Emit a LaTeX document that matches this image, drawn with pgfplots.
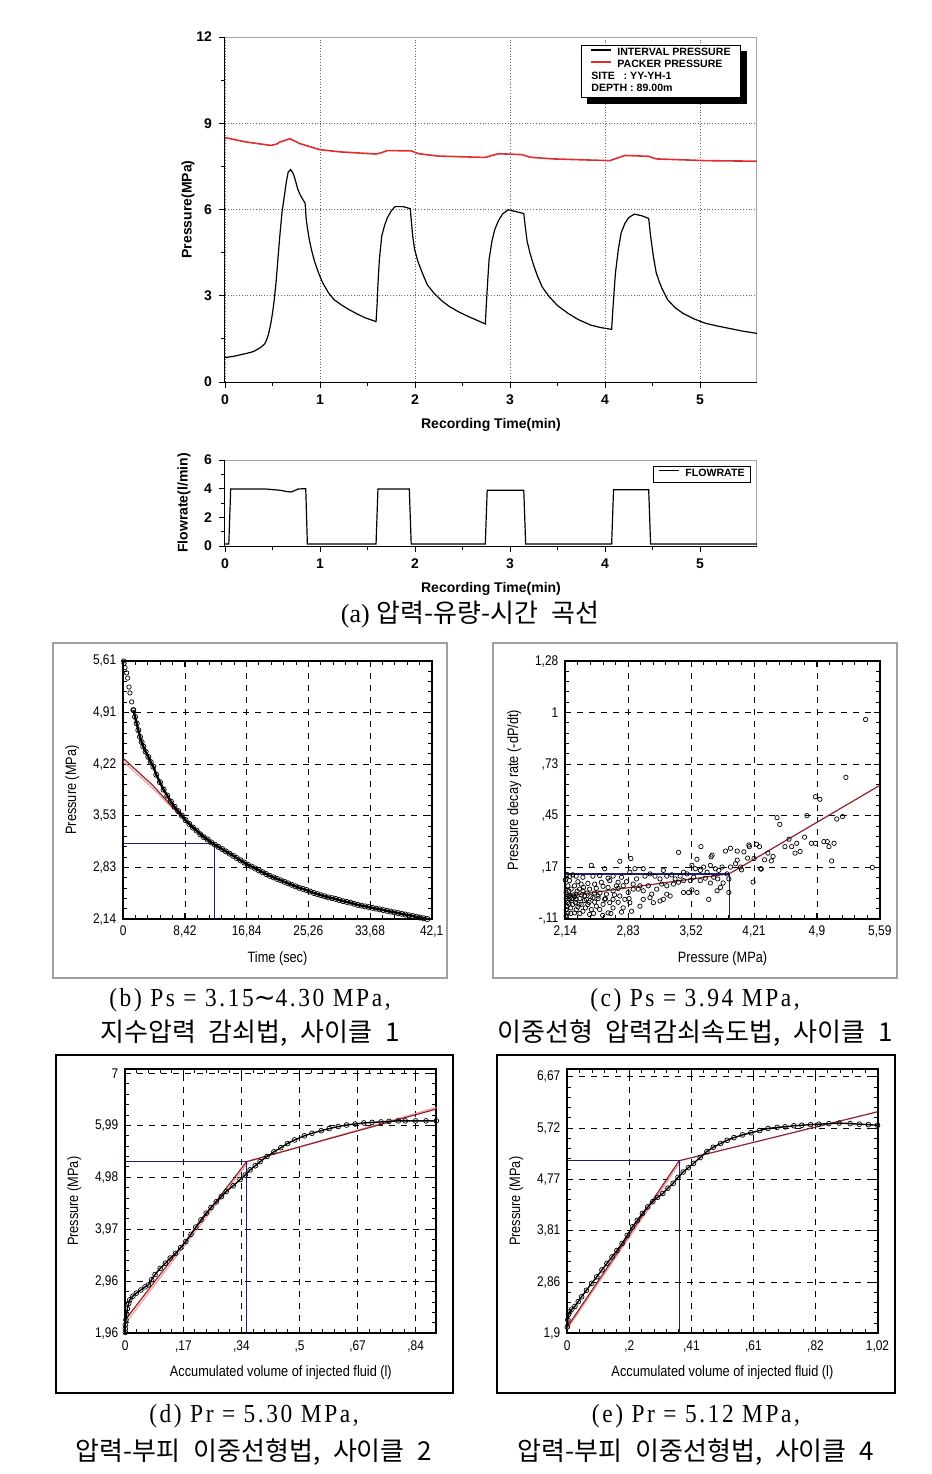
\documentclass[border=0pt]{standalone}
\usepackage{fontspec}
\setmainfont{Liberation Sans}
\newfontfamily\narrowsans[FakeStretch=0.85]{Liberation Sans}
\newfontfamily\capserif[FakeStretch=0.9,LetterSpace=10]{Liberation Serif}
\newfontfamily\plainserif{Liberation Serif}
\newfontfamily\dejavu{DejaVu Sans}
\newfontfamily\kr[WordSpace=2.2]{Noto Sans CJK KR}
\usepackage{pgfplots}
\pgfplotsset{compat=1.18}
\definecolor{packred}{RGB}{225,45,45}
\definecolor{fitred}{RGB}{140,35,45}
\definecolor{fitpink}{RGB}{238,160,160}
\definecolor{navy}{RGB}{30,30,115}
\definecolor{gridblue}{RGB}{95,95,140}

\pgfplotsset{
  topstyle/.style={
    scale only axis, anchor=south west,
    axis x line*=bottom, axis y line*=left,
    tick align=outside,
    xmin=0, xmax=5.6,
    xtick={0,1,2,3,4,5},
    minor x tick num=1,
    tick label style={font=\fontsize{7}{8}\selectfont\bfseries},
    label style={font=\fontsize{7}{8}\selectfont\bfseries},
    /pgf/number format/assume math mode=true,
    major tick length=3pt, minor tick length=2pt,
    every tick/.style={black, line width=0.4pt},
    axis line style={black, line width=0.5pt},
    legend image code/.code={\draw[#1,line width=0.7pt] (0pt,1.8pt) -- (10pt,1.8pt);},
  },
  smallstyle/.style={
    scale only axis, anchor=south west,
    axis line style={black, line width=1pt},
    grid=major,
    major grid style={black, dashed, line width=0.35pt},
    tick align=inside,
    minor tick num=4,
    major tick length=3pt, minor tick length=2pt,
    every tick/.style={black, line width=0.5pt},
    tick label style={font=\fontsize{7}{8}\selectfont\narrowsans},
    label style={font=\fontsize{7.5}{9}\selectfont\narrowsans},
    scaled ticks=false,
  },
  datamarks/.style={black, line width=0.35pt, mark=o, mark size=1.1pt, mark options={line width=0.35pt}},
}

\begin{document}
\begin{tikzpicture}
\useasboundingbox (0,0) rectangle (466pt,-737pt);
\fill[white] (0,0) rectangle (466pt,-737pt);

% ---------------- (a) pressure ----------------
\begin{axis}[topstyle, at={(112.5pt,-191pt)}, width=266pt, height=172.5pt,
  ymin=0, ymax=12, ytick={0,3,6,9,12}, minor y tick num=1,
  ylabel shift=-6pt,
  grid=major, major grid style={gridblue, densely dotted, line width=0.4pt},
  xlabel={Recording Time(min)}, ylabel={Pressure(MPa)},
  legend style={name=toplegend, at={(0.970,0.977)}, anchor=north east, draw=black, line width=0.6pt,
    fill=white, font=\fontsize{5.3}{5.5}\selectfont\bfseries, inner xsep=4.5pt, inner ysep=1pt,
    nodes={inner sep=0.4pt}, row sep=0pt, legend cell align=left,
    /tikz/every odd column/.append style={column sep=2.2pt}},
  ]
\draw[gray!70, line width=0.6pt] (rel axis cs:0,1) -- (rel axis cs:1,1) -- (rel axis cs:1,0);
\addplot[black, line width=0.6pt] coordinates {
(0,0.85) (0.1,0.90) (0.22,0.99) (0.3,1.06) (0.36,1.17) (0.40,1.27) (0.42,1.34) (0.44,1.48) (0.46,1.69)
(0.48,2.0) (0.50,2.39) (0.52,2.9) (0.54,3.56) (0.56,4.4) (0.58,5.19) (0.60,5.9) (0.625,6.48)
(0.645,6.95) (0.665,7.30) (0.69,7.39) (0.71,7.30) (0.726,7.18) (0.746,6.95) (0.766,6.71)
(0.786,6.55) (0.806,6.42) (0.825,6.32) (0.843,6.22) (0.855,5.66) (0.87,5.30) (0.887,4.96)
(0.91,4.60) (0.93,4.35) (0.948,4.14) (0.99,3.75) (1.03,3.44) (1.09,3.10) (1.15,2.86)
(1.23,2.67) (1.31,2.51) (1.39,2.37) (1.47,2.24) (1.59,2.10) (1.60,2.63) (1.61,3.4) (1.625,4.26)
(1.65,5.08) (1.68,5.45) (1.71,5.72) (1.75,5.95) (1.79,6.10) (1.875,6.10) (1.95,6.03) (1.96,5.66)
(1.975,5.10) (1.996,4.61) (2.03,4.20) (2.077,3.79) (2.13,3.38) (2.20,3.09) (2.28,2.83)
(2.36,2.63) (2.46,2.44) (2.56,2.28) (2.65,2.15) (2.74,2.02) (2.75,2.63) (2.765,3.5) (2.78,4.26)
(2.81,4.9) (2.84,5.31) (2.88,5.62) (2.92,5.84) (2.98,5.99) (3.06,5.93) (3.145,5.86) (3.16,5.43)
(3.18,4.90) (3.21,4.49) (3.25,4.05) (3.29,3.68) (3.34,3.30) (3.41,2.98) (3.50,2.66)
(3.61,2.39) (3.72,2.17) (3.85,1.98) (3.96,1.89) (4.07,1.83) (4.08,2.39) (4.095,3.1) (4.11,3.79)
(4.14,4.6) (4.17,5.19) (4.21,5.52) (4.25,5.72) (4.31,5.84) (4.39,5.78) (4.46,5.69) (4.48,5.08)
(4.51,4.35) (4.54,3.79) (4.57,3.50) (4.60,3.25) (4.66,2.86) (4.74,2.58) (4.82,2.39)
(4.94,2.19) (5.06,2.04) (5.18,1.95) (5.30,1.87) (5.45,1.77) (5.6,1.69)};
\addlegendentry{INTERVAL PRESSURE}
\addplot[packred, line width=0.8pt] coordinates {
(0,8.50) (0.22,8.35) (0.48,8.23) (0.54,8.27) (0.58,8.35) (0.685,8.46) (0.79,8.29)
(0.87,8.21) (1.0,8.08) (1.23,8.0) (1.59,7.93) (1.65,7.98) (1.71,8.05) (1.96,8.04)
(2.04,7.94) (2.24,7.86) (2.74,7.81) (2.8,7.87) (2.88,7.94) (3.125,7.91) (3.21,7.82)
(3.45,7.76) (4.05,7.70) (4.12,7.78) (4.21,7.88) (4.46,7.85) (4.54,7.76) (5.06,7.70) (5.6,7.68)};
\addlegendentry{PACKER PRESSURE}
\addlegendimage{empty legend}
\addlegendentry{\hspace*{-13pt}SITE\ \ \ : YY-YH-1}
\addlegendimage{empty legend}
\addlegendentry{\hspace*{-13pt}DEPTH : 89.00m}
\end{axis}
% legend shadow (visible L-shaped part only)
\fill[black] ([xshift=3pt]toplegend.south west) rectangle ([xshift=3pt,yshift=-3pt]toplegend.south east);
\fill[black] ([yshift=-3pt]toplegend.north east) rectangle ([xshift=3pt,yshift=-3pt]toplegend.south east);

% ---------------- (a) flowrate ----------------
\begin{axis}[topstyle, at={(112.5pt,-273pt)}, width=266pt, height=43pt,
  ymin=0, ymax=6, ytick={0,2,4,6}, minor y tick num=1,
  xlabel={Recording Time(min)}, ylabel={Flowrate(l/min)},
  legend style={at={(0.989,0.93)}, anchor=north east, draw=black, line width=0.5pt,
    fill=white, font=\fontsize{5.3}{5.5}\selectfont\bfseries, inner xsep=2.5pt, inner ysep=0.8pt,
    nodes={inner sep=0.5pt}, /tikz/every odd column/.append style={column sep=2.2pt}},
  ]
\draw[gray!70, line width=0.6pt] (rel axis cs:0,1) -- (rel axis cs:1,1) -- (rel axis cs:1,0);
\addplot[black, line width=0.6pt] coordinates {
(0,0.14) (0.04,0.14) (0.06,3.98) (0.42,3.98) (0.58,3.89) (0.65,3.80) (0.70,3.77) (0.77,3.98)
(0.85,4.0) (0.867,0.14) (1.59,0.14) (1.61,3.98) (1.94,3.98) (1.96,0.14) (2.74,0.14)
(2.76,3.89) (3.145,3.89) (3.165,0.14) (4.07,0.14) (4.09,3.93) (4.46,3.93) (4.48,0.14) (5.6,0.14)};
\addlegendentry{FLOWRATE}
\end{axis}

\node[font=\fontsize{13}{15}\selectfont] at (235pt,-307.5pt) {{\plainserif (a)} {\kr 압력-유량-시간 곡선}};

% ---------------- frames ----------------
\draw[gray!75, line width=1pt] (26.5pt,-321.5pt) rectangle (223.5pt,-489pt);
\draw[gray!75, line width=1pt] (246.5pt,-321.5pt) rectangle (448.5pt,-489pt);
\draw[black, line width=0.8pt] (28pt,-527.5pt) rectangle (226.5pt,-696.5pt);
\draw[black, line width=0.8pt] (248.5pt,-527.5pt) rectangle (447.5pt,-696.5pt);

% ---------------- (b) ----------------
\begin{axis}[smallstyle, at={(61.65pt,-459.5pt)}, width=154.2pt, height=129pt,
  xmin=0, xmax=42.1, ymin=2.14, ymax=5.61,
  xtick={0,8.42,16.84,25.26,33.68,42.1}, xticklabels={0,{8,42},{16,84},{25,26},{33,68},{42,1}},
  ytick={2.14,2.834,3.528,4.222,4.916,5.61}, yticklabels={{2,14},{2,83},{3,53},{4,22},{4,91},{5,61}},
  xlabel={Time (sec)}, ylabel={Pressure (MPa)}]
\addplot[fitpink, line width=0.6pt] coordinates {(0,4.26) (4,3.90) (8.42,3.46) (12.3,3.14) (14,3.04)};
\addplot[fitred, line width=0.6pt] coordinates {(0,4.30) (4,3.94) (8.2,3.49) (12.3,3.15) (15,3.0)};
\addplot[navy, line width=0.6pt] coordinates {(0,3.16) (12.4,3.16) (12.4,2.14)};
\addplot[datamarks, only marks] coordinates {(0.05,5.61) (0.1,5.58) (0.23,5.52) (0.46,5.45) (0.6,5.38) (0.78,5.26) (0.91,5.18) (1.15,5.06) (1.37,4.95)};
\addplot[datamarks, line width=1.2pt, mark size=1.3pt] coordinates {
(1.37,4.95) (1.6,4.86) (1.83,4.77) (2.05,4.68) (2.28,4.59) (2.5,4.52) (2.73,4.46) (3.05,4.39)
(3.41,4.32) (3.75,4.25) (4.10,4.19) (4.5,4.08) (5,3.98) (5.5,3.88) (6,3.80) (6.5,3.72)
(7,3.65) (7.5,3.59) (8,3.53) (8.5,3.47) (9,3.42) (9.5,3.37) (10,3.33) (10.5,3.28) (11,3.24)
(11.5,3.21) (12,3.17) (12.5,3.14) (13,3.11) (13.5,3.08) (14,3.05) (14.5,3.02) (15,2.99)
(15.5,2.96) (16,2.93) (16.5,2.90) (17,2.87) (17.5,2.845) (18,2.82) (18.5,2.795) (19,2.77)
(19.5,2.745) (20,2.72) (20.5,2.70) (21,2.68) (21.5,2.66) (22,2.64) (22.5,2.62) (23,2.60)
(23.5,2.58) (24,2.56) (24.5,2.545) (25,2.53) (25.5,2.51) (26,2.49) (26.5,2.475) (27,2.46)
(27.5,2.445) (28,2.43) (28.5,2.42) (29,2.41) (29.5,2.395) (30,2.38) (30.5,2.37) (31,2.36)
(31.5,2.345) (32,2.33) (32.5,2.32) (33,2.31) (33.5,2.30) (34,2.29) (34.5,2.28) (35,2.27)
(35.5,2.26) (36,2.25) (36.5,2.24) (37,2.23) (37.5,2.22) (38,2.21) (38.5,2.20) (39,2.19)
(39.5,2.18) (40,2.17) (40.5,2.16) (41,2.15) (41.5,2.14) (42,2.13)};
\end{axis}

% ---------------- (c) ----------------
\begin{axis}[smallstyle, at={(282.65pt,-459.5pt)}, width=157.25pt, height=129pt,
  xmin=2.14, xmax=5.59, ymin=-0.11, ymax=1.28,
  xtick={2.14,2.83,3.52,4.21,4.9,5.59}, xticklabels={{2,14},{2,83},{3,52},{4,21},{4,9},{5,59}},
  ytick={-0.11,0.168,0.446,0.724,1.002,1.28}, yticklabels={{-,11},{,17},{,45},{,73},1,{1,28}},
  xlabel={Pressure (MPa)}, ylabel={Pressure decay rate (-dP/dt)}]
\addplot[datamarks, only marks, mark size=1.1pt] coordinates {
(2.425,0.179) (2.572,0.161) (2.738,0.201) (2.859,0.216) (2.903,0.161) (2.995,0.161) (2.756,0.115)
(2.848,0.142) (2.664,0.121) (2.609,0.110) (2.517,0.124) (2.443,0.121) (2.333,0.115) (2.259,0.121)
(2.222,0.128) (2.186,0.097) (2.278,0.091) (2.314,0.078) (2.388,0.082) (2.462,0.078) (2.535,0.088)
(2.627,0.097) (2.719,0.088) (2.811,0.091) (2.922,0.106) (3.014,0.121) (3.069,0.133) (3.124,0.121)
(3.179,0.106) (3.216,0.152) (3.253,0.121) (3.308,0.128) (3.345,0.106) (3.400,0.121) (3.437,0.142)
(3.474,0.133) (3.529,0.179) (3.566,0.161) (3.621,0.152) (3.658,0.170) (3.695,0.142) (3.731,0.179)
(3.786,0.161) (3.823,0.152) (3.860,0.170) (3.915,0.133) (3.952,0.170) (3.382,0.249) (3.628,0.280)
(3.739,0.225) (3.750,0.234) (3.897,0.256) (3.952,0.271) (4.026,0.256) (4.099,0.252) (4.154,0.289)
(4.239,0.293) (4.284,0.161) (4.210,0.216) (4.063,0.170) (4.008,0.188) (4.026,0.207) (3.584,0.212)
(3.529,0.047) (3.437,0.033) (3.492,0.033) (3.584,0.033) (3.290,0.014) (3.253,0.024) (3.088,0.024)
(2.995,0.042) (2.940,0.051) (2.885,0.051) (2.830,0.033) (2.793,-0.004) (2.738,0.014) (2.664,-0.004)
(2.627,-0.022) (2.554,-0.031) (2.480,-0.041) (2.425,-0.059) (2.407,-0.086) (2.333,-0.068)
(2.278,-0.044) (2.222,-0.031) (2.186,-0.004) (2.157,-0.041) (2.168,-0.077) (2.149,-0.092)
(2.241,-0.077) (2.314,-0.031) (2.370,-0.004) (2.443,0.005) (2.499,0.014) (2.591,0.024) (2.664,0.042)
(2.719,0.055) (2.775,0.069) (2.885,0.078) (2.959,0.069) (3.051,0.069) (3.143,0.051) (3.198,0.078)
(3.253,0.069) (3.327,0.078) (3.382,0.088) (3.437,0.097) (3.511,0.097) (3.548,0.115) (3.621,0.097)
(3.676,0.110) (3.731,0.084) (3.768,0.115) (3.812,0.106) (3.871,0.084) (3.934,0.106) (3.934,0.033)
(3.713,-0.004) (3.842,0.060) (3.805,0.042) (2.867,-0.068) (2.756,-0.073) (2.609,-0.077)
(2.572,-0.004) (2.995,-0.004) (3.069,0.005) (3.106,-0.022) (3.179,-0.013) (3.216,-0.004)
(2.959,-0.041) (2.848,-0.022) (2.775,-0.050) (2.664,-0.050) (2.517,-0.059) (2.462,-0.019)
(2.388,-0.031) (2.352,0.014) (2.259,0.024) (2.204,0.051) (2.149,0.033) (2.193,0.018) (2.168,0.069)
(2.241,0.069) (2.296,0.051) (2.333,0.042) (2.407,0.051) (2.480,0.055) (2.554,0.066) (2.609,0.060)
(2.701,0.069) (2.179,0.014) (2.216,0.000) (2.259,-0.004)
(2.15,0.00) (2.16,0.02) (2.17,-0.02) (2.18,0.04) (2.15,-0.06) (2.20,-0.05) (2.21,0.00) (2.23,0.02)
(2.25,-0.02) (2.27,0.04) (2.30,0.00) (2.32,0.02) (2.35,-0.01) (2.38,0.03) (2.42,0.01) (2.46,0.03)
(2.50,0.00) (2.14,0.10) (2.16,0.13) (2.19,0.12) (2.15,-0.10) (2.20,-0.08) (2.26,-0.06) (2.30,-0.08)
(2.36,-0.05) (2.45,-0.08) (2.55,-0.09) (2.64,-0.08) (2.18,-0.03) (2.24,0.01) (2.29,-0.03) (2.34,0.06)
(2.40,-0.02) (2.52,0.03) (2.58,0.00) (2.68,0.02) (2.72,-0.02) (2.84,0.00)
(5.434,0.965) (5.218,0.653) (4.932,0.535) (4.884,0.549) (5.508,0.168) (5.062,0.203) (4.463,0.436)
(4.493,0.400) (4.791,0.447) (5.118,0.429) (5.181,0.442) (4.594,0.320) (4.679,0.298) (4.839,0.298)
(4.976,0.307) (5.014,0.307) (5.032,0.280) (5.088,0.298) (4.765,0.331) (4.549,0.280) (4.623,0.280)
(4.660,0.245) (4.716,0.254) (4.419,0.227) (4.400,0.203) (4.363,0.245) (4.270,0.280) (4.289,0.159)
(4.200,0.089) (4.073,0.155) (4.14,0.218) (4.159,0.28) (4.326,0.209) (4.884,0.298)};
\addplot[fitred, line width=0.6pt] coordinates {(2.14,0.012) (3.93,0.133)};
\addplot[fitred, line width=0.6pt] coordinates {(3.95,0.137) (5.59,0.61)};
\addplot[navy, line width=0.6pt] coordinates {(2.14,0.133) (3.94,0.133) (3.94,-0.11)};
\end{axis}

% ---------------- (d) ----------------
\begin{axis}[smallstyle, at={(62.65pt,-666.65pt)}, width=155.55pt, height=132pt,
  xmin=0, xmax=0.9, ymin=1.96, ymax=7.08,
  xtick={0,0.168,0.336,0.504,0.672,0.84}, xticklabels={0,{,17},{,34},{,5},{,67},{,84}},
  ytick={1.96,2.968,3.976,4.984,5.992,7}, yticklabels={{1,96},{2,96},{3,97},{4,98},{5,99},7},
  xlabel={Accumulated volume of injected fluid (l)}, ylabel={Pressure (MPa)}]
\addplot[fitpink, line width=0.6pt] coordinates {(0,2.15) (0.355,5.27)};
\addplot[fitpink, line width=0.6pt] coordinates {(0.36,5.30) (0.9,6.34)};
\addplot[fitred, line width=0.6pt] coordinates {(0,2.22) (0.351,5.29) (0.9,6.31)};
\addplot[navy, line width=0.6pt] coordinates {(0,5.29) (0.351,5.29) (0.351,1.96)};
\addplot[datamarks, line width=0.7pt, mark size=1.2pt] coordinates {
(0,1.98) (0,2.05) (0,2.12) (0.002,2.22) (0.004,2.33) (0.006,2.44) (0.01,2.54) (0.013,2.61)
(0.022,2.68) (0.032,2.74) (0.045,2.80) (0.057,2.86) (0.067,2.90) (0.076,3.00) (0.086,3.10)
(0.101,3.22) (0.116,3.32) (0.13,3.42) (0.145,3.51) (0.16,3.62) (0.175,3.74) (0.19,3.88)
(0.204,4.02) (0.219,4.16) (0.234,4.29) (0.248,4.40) (0.263,4.51) (0.278,4.61) (0.292,4.71)
(0.312,4.82) (0.332,4.94) (0.347,5.03) (0.361,5.13) (0.376,5.21) (0.39,5.29) (0.41,5.39)
(0.43,5.48) (0.45,5.56) (0.469,5.64) (0.49,5.71) (0.518,5.79) (0.54,5.84) (0.567,5.89)
(0.59,5.93) (0.616,5.97) (0.64,6.00) (0.665,6.02) (0.69,6.04) (0.714,6.05) (0.74,6.06)
(0.763,6.07) (0.79,6.08) (0.81,6.08) (0.84,6.08) (0.87,6.08) (0.90,6.08)};
\end{axis}

% ---------------- (e) ----------------
\begin{axis}[smallstyle, at={(283.65pt,-666.65pt)}, width=155.1pt, height=132pt,
  xmin=0, xmax=1.02, ymin=1.9, ymax=6.81,
  xtick={0,0.204,0.408,0.612,0.816,1.02}, xticklabels={0,{,2},{,41},{,61},{,82},{1,02}},
  ytick={1.9,2.854,3.808,4.762,5.716,6.67}, yticklabels={{1,9},{2,86},{3,81},{4,77},{5,72},{6,67}},
  xlabel={Accumulated volume of injected fluid (l)}, ylabel={Pressure (MPa)}]
\addplot[fitpink, line width=0.6pt] coordinates {(0,1.98) (0.372,5.09)};
\addplot[fitred, line width=0.6pt] coordinates {(0,2.02) (0.368,5.11) (1.02,6.02)};
\addplot[navy, line width=0.6pt] coordinates {(0,5.11) (0.368,5.11) (0.368,1.9)};
\addplot[datamarks, line width=0.7pt, mark size=1.2pt] coordinates {
(0,2.02) (0.002,2.15) (0.004,2.25) (0.008,2.30) (0.015,2.35) (0.025,2.40) (0.036,2.49)
(0.047,2.58) (0.063,2.70) (0.08,2.83) (0.097,2.95) (0.114,3.08) (0.13,3.20) (0.147,3.32)
(0.163,3.44) (0.18,3.57) (0.197,3.72) (0.214,3.88) (0.23,4.00) (0.247,4.13) (0.264,4.25)
(0.281,4.35) (0.297,4.43) (0.314,4.50) (0.331,4.60) (0.348,4.69) (0.364,4.80) (0.381,4.90)
(0.398,4.98) (0.415,5.06) (0.437,5.17) (0.459,5.28) (0.48,5.36) (0.504,5.43) (0.526,5.49)
(0.548,5.54) (0.576,5.59) (0.604,5.63) (0.632,5.67) (0.66,5.71) (0.69,5.73) (0.716,5.74)
(0.745,5.76) (0.771,5.77) (0.8,5.78) (0.827,5.79) (0.86,5.80) (0.894,5.81) (0.93,5.80)
(0.96,5.79) (0.99,5.78) (1.02,5.77)};
\end{axis}

% ---------------- captions ----------------
\node[font=\fontsize{13}{15}\selectfont\capserif] at (125pt,-500pt) {(b) Ps = 3.15{\dejavu ∼}4.30 MPa,};
\node[font=\fontsize{13}{15}\selectfont\kr] at (125pt,-516.5pt) {지수압력 감쇠법, 사이클 1};
\node[font=\fontsize{13}{15}\selectfont\capserif] at (347.5pt,-500pt) {(c) Ps = 3.94 MPa,};
\node[font=\fontsize{13}{15}\selectfont\kr] at (347.5pt,-516.5pt) {이중선형 압력감쇠속도법, 사이클 1};
\node[font=\fontsize{13}{15}\selectfont\capserif] at (127pt,-708pt) {(d) Pr = 5.30 MPa,};
\node[font=\fontsize{13}{15}\selectfont\kr] at (127pt,-726pt) {압력-부피 이중선형법, 사이클 2};
\node[font=\fontsize{13}{15}\selectfont\capserif] at (348pt,-708pt) {(e) Pr = 5.12 MPa,};
\node[font=\fontsize{13}{15}\selectfont\kr] at (348pt,-726pt) {압력-부피 이중선형법, 사이클 4};
\end{tikzpicture}
\end{document}
